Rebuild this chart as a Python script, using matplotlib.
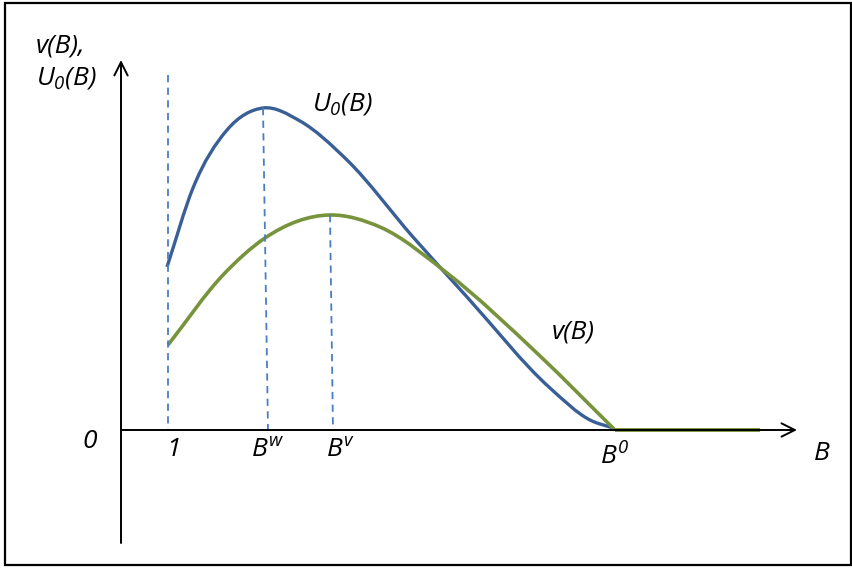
import matplotlib
matplotlib.use("Agg")
import matplotlib.pyplot as plt
from matplotlib.patches import Rectangle, PathPatch
from matplotlib.path import Path

FONT = 'Open Sans'
plt.rcParams['font.family'] = [FONT, 'DejaVu Sans']
plt.rcParams['mathtext.fontset'] = 'custom'
plt.rcParams['mathtext.it'] = FONT + ':italic'
plt.rcParams['mathtext.rm'] = FONT + ':italic'
plt.rcParams['mathtext.default'] = 'it'

# Schematic curves (x: B axis units, y: value units)
u0_x = [46, 72, 106, 142, 179, 226, 292, 346, 429, 469, 492]
u0_y = [163, 242, 300, 322, 309, 270, 193, 133, 42, 10, 2]

v_x = [47, 102, 144, 209, 259, 326, 419, 494]
v_y = [85, 155, 192, 215, 203, 157, 74, 0]
v_tail_x = [494, 639]
v_tail_y = [0, 0]

# guide lines: (x_top, y_top, x_bottom)
guides = [(47, 355, 47), (142, 322, 147), (209, 215, 212)]

tick_labels = ['1', r'$B^{w}$', r'$B^{v}$', r'$B^{0}$']
tick_pos = [(52, -20), (147, -20), (219, -20), (494, -27)]


def smooth_path(xs, ys):
    """Cubic Hermite curve y(x) through the points, as Bezier segments."""
    n = len(xs)
    h = [xs[i + 1] - xs[i] for i in range(n - 1)]
    d = [(ys[i + 1] - ys[i]) / h[i] for i in range(n - 1)]
    m = [d[0]]
    for i in range(1, n - 1):
        m.append((d[i - 1] * h[i] + d[i] * h[i - 1]) / (h[i - 1] + h[i]))
    m.append(d[-1])
    verts = [(xs[0], ys[0])]
    codes = [Path.MOVETO]
    for i in range(n - 1):
        verts += [(xs[i] + h[i] / 3, ys[i] + m[i] * h[i] / 3),
                  (xs[i + 1] - h[i] / 3, ys[i + 1] - m[i + 1] * h[i] / 3),
                  (xs[i + 1], ys[i + 1])]
        codes += [Path.CURVE4] * 3
    return Path(verts, codes)


W, H = 852, 570
fig = plt.figure(figsize=(W / 100, H / 100), dpi=100)
ax = fig.add_axes([0, 0, 1, 1])
ax.set_xlim(-121, W - 121)
ax.set_ylim(430 - H, 430)
ax.axis('off')

# border
ax.add_patch(Rectangle((5 - 121, 430 - 565), 846, 562, fill=False,
                       edgecolor='black', lw=1.6))

# axes arrows
ax.annotate('', xy=(676, 0), xytext=(0, 0),
            arrowprops=dict(arrowstyle='->', lw=1.4, color='black',
                            mutation_scale=24, shrinkA=0, shrinkB=0))
ax.annotate('', xy=(0, 370), xytext=(0, -113),
            arrowprops=dict(arrowstyle='->', lw=1.4, color='black',
                            mutation_scale=24, shrinkA=0, shrinkB=0))

dash_col = '#4A7EC4'
for xt, yt, xb in guides:
    ax.plot([xt, xb], [yt, 0], ls=(0, (4, 3)), color=dash_col, lw=1.3)

ax.add_patch(PathPatch(smooth_path(u0_x, u0_y), fill=False,
                       edgecolor='#3A5F96', lw=2.4, capstyle='butt'))
ax.add_patch(PathPatch(smooth_path(v_x, v_y), fill=False,
                       edgecolor='#77933C', lw=2.6, capstyle='butt'))
ax.plot(v_tail_x, v_tail_y, color='#77933C', lw=2.8, solid_capstyle='butt')

fs = 19
for lab, (x, y) in zip(tick_labels, tick_pos):
    ax.text(x, y, lab, fontsize=fs, style='italic', ha='center', va='center')

ax.text(-31, -12, '0', fontsize=fs, style='italic', ha='center', va='center')
ax.text(701, -24, 'B', fontsize=fs, style='italic', ha='center', va='center')
ax.text(-85, 384, 'v(B),', fontsize=fs, style='italic', ha='left', va='center')
ax.text(-85, 352, r'$U_0$(B)', fontsize=fs, style='italic', ha='left', va='center')
ax.text(191, 326, r'$U_0$(B)', fontsize=fs, style='italic', ha='left', va='center')
ax.text(431, 98, 'v(B)', fontsize=fs, style='italic', ha='left', va='center')

fig.savefig('out.png', dpi=100)
